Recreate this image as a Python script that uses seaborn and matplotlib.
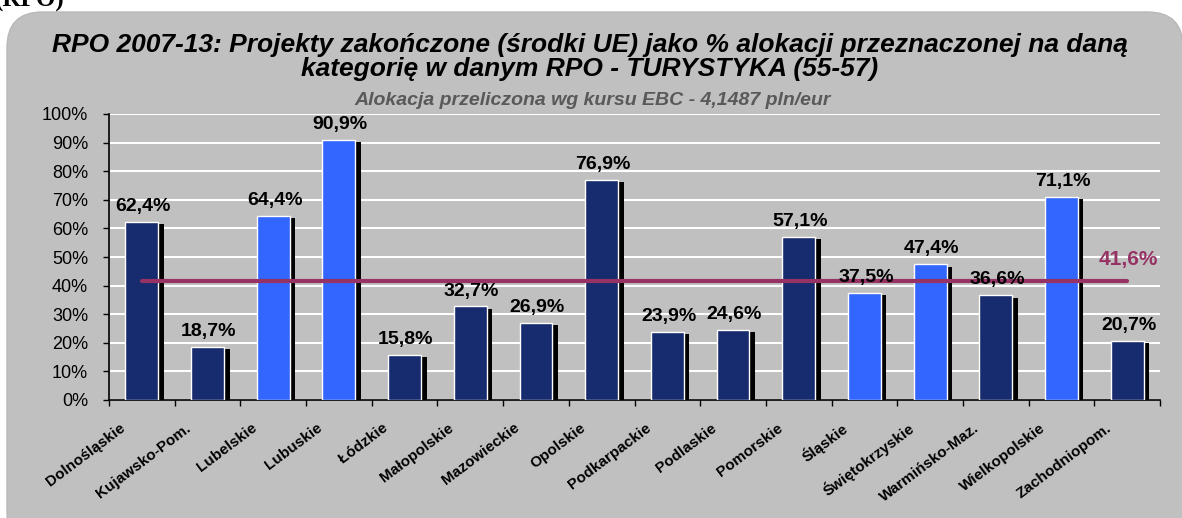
import matplotlib
matplotlib.use("Agg")
import matplotlib.pyplot as plt
import matplotlib.patheffects as pe
from matplotlib.patches import FancyBboxPatch
from matplotlib.transforms import ScaledTranslation
from matplotlib.ticker import FixedLocator, PercentFormatter
import seaborn as sns
import pandas as pd

regions = ["Dolnośląskie", "Kujawsko-Pom.", "Lubelskie", "Lubuskie", "Łódzkie",
           "Małopolskie", "Mazowieckie", "Opolskie", "Podkarpackie", "Podlaskie",
           "Pomorskie", "Śląskie", "Świętokrzyskie", "Warmińsko-Maz.",
           "Wielkopolskie", "Zachodniopom."]
values = [62.4, 18.7, 64.4, 90.9, 15.8, 32.7, 26.9, 76.9, 23.9, 24.6,
          57.1, 37.5, 47.4, 36.6, 71.1, 20.7]
highlight = [False, False, True, True, False, False, False, False, False, False,
             False, True, True, False, True, False]
average = 41.6
y_ticks = [0, 10, 20, 30, 40, 50, 60, 70, 80, 90, 100]

title = ("RPO 2007-13: Projekty zakończone (środki UE) jako % alokacji przeznaczonej na daną\n"
         "kategorię w danym RPO - TURYSTYKA (55-57)")
subtitle = "Alokacja przeliczona wg kursu EBC - 4,1487 pln/eur"

DARK = "#172B6F"
BRIGHT = "#3366FF"
LINE = "#963264"
PANEL = "#C0C0C0"

sns.set_style("white")
plt.rcParams["font.family"] = ["Liberation Sans", "DejaVu Sans"]
plt.rcParams["text.color"] = "black"
plt.rcParams["xtick.color"] = "black"
plt.rcParams["ytick.color"] = "black"
plt.rcParams["axes.labelcolor"] = "black"

W, H = 1182, 518
fig = plt.figure(figsize=(W / 100, H / 100), dpi=100, facecolor="white")

# rounded grey panel
panel = FancyBboxPatch((7 / W, -30 / H), (W - 6) / W, (H - 12 + 30) / H,
                       boxstyle="round,pad=0,rounding_size=0.03",
                       transform=fig.transFigure, facecolor=PANEL,
                       edgecolor="#B8B8B8", linewidth=1, zorder=-5,
                       mutation_aspect=W / H)
fig.patches.append(panel)

fig.text(-0.004, 1 - 7 / H, "(RPO)", family="Liberation Serif", fontweight="bold",
         fontsize=18, ha="left", va="baseline")

ax = fig.add_axes([109 / W, 1 - 400 / H, (1160 - 109) / W, (400 - 114) / H])
ax.set_zorder(2)
ax.set_facecolor("none")

df = pd.DataFrame({"region": regions, "value": values})
palette = [BRIGHT if h else DARK for h in highlight]
sns.barplot(data=df, x="region", y="value", hue="region", palette=palette,
            legend=False, width=0.5, saturation=1, ax=ax, zorder=3)

for bar in ax.patches:
    bar.set_path_effects([
        pe.SimplePatchShadow(offset=(4.0, -1.7), shadow_rgbFace="black", alpha=1.0),
        pe.Normal()])

# average line
n = len(regions)
sns.lineplot(x=[0, n - 1], y=[average, average], color=LINE, linewidth=3,
             ax=ax, zorder=4)
ax.annotate(f"{average:.1f}%".replace(".", ","), xy=(n - 1, average),
            xytext=(1, 9), textcoords="offset points", ha="center", va="bottom",
            color=LINE, fontsize=15, fontweight="bold", zorder=6)

# value labels
for i, v in enumerate(values):
    ax.annotate(f"{v:.1f}%".replace(".", ","), xy=(i, v), xytext=(1, 5),
                textcoords="offset points", ha="center", va="bottom",
                fontsize=14, fontweight="bold", color="black", zorder=6)

ax.set_ylim(0, 100)
ax.set_xlim(-0.5, n - 0.5)
ax.set_yticks(y_ticks)
ax.yaxis.set_major_formatter(PercentFormatter(decimals=0))
ax.grid(axis="y", color="white", linewidth=1.5, zorder=0)
ax.set_axisbelow(True)
ax.set_xlabel("")
ax.set_ylabel("")

for s in ["top", "right"]:
    ax.spines[s].set_visible(False)
for s in ["left", "bottom"]:
    ax.spines[s].set_color("black")
    ax.spines[s].set_linewidth(1.2)

ax.tick_params(axis="y", direction="out", length=4, width=1, pad=11,
               labelsize=13, left=True)
ax.xaxis.set_minor_locator(FixedLocator([i - 0.5 for i in range(n + 1)]))
ax.tick_params(axis="x", which="minor", direction="out", length=4, width=1,
               bottom=True)
ax.tick_params(axis="x", which="major", length=0, pad=19)
ax.set_xticks(range(n))
ax.set_xticklabels(regions, rotation=37, ha="right", va="center",
                   rotation_mode="anchor", fontsize=11, fontweight="bold")
for lbl in ax.get_xticklabels():
    lbl.set_transform(lbl.get_transform() + ScaledTranslation(-0.18, 0, fig.dpi_scale_trans))

fig.text(590 / W, 1 - 57 / H, title, ha="center", va="center", fontsize=19,
         fontweight="bold", fontstyle="italic", linespacing=1.0, color="black")
fig.text(593 / W, 1 - 101 / H, subtitle, ha="center", va="center", fontsize=14,
         fontweight="bold", fontstyle="italic", color="#595959")

fig.savefig("out.png", dpi=100, facecolor="white")
